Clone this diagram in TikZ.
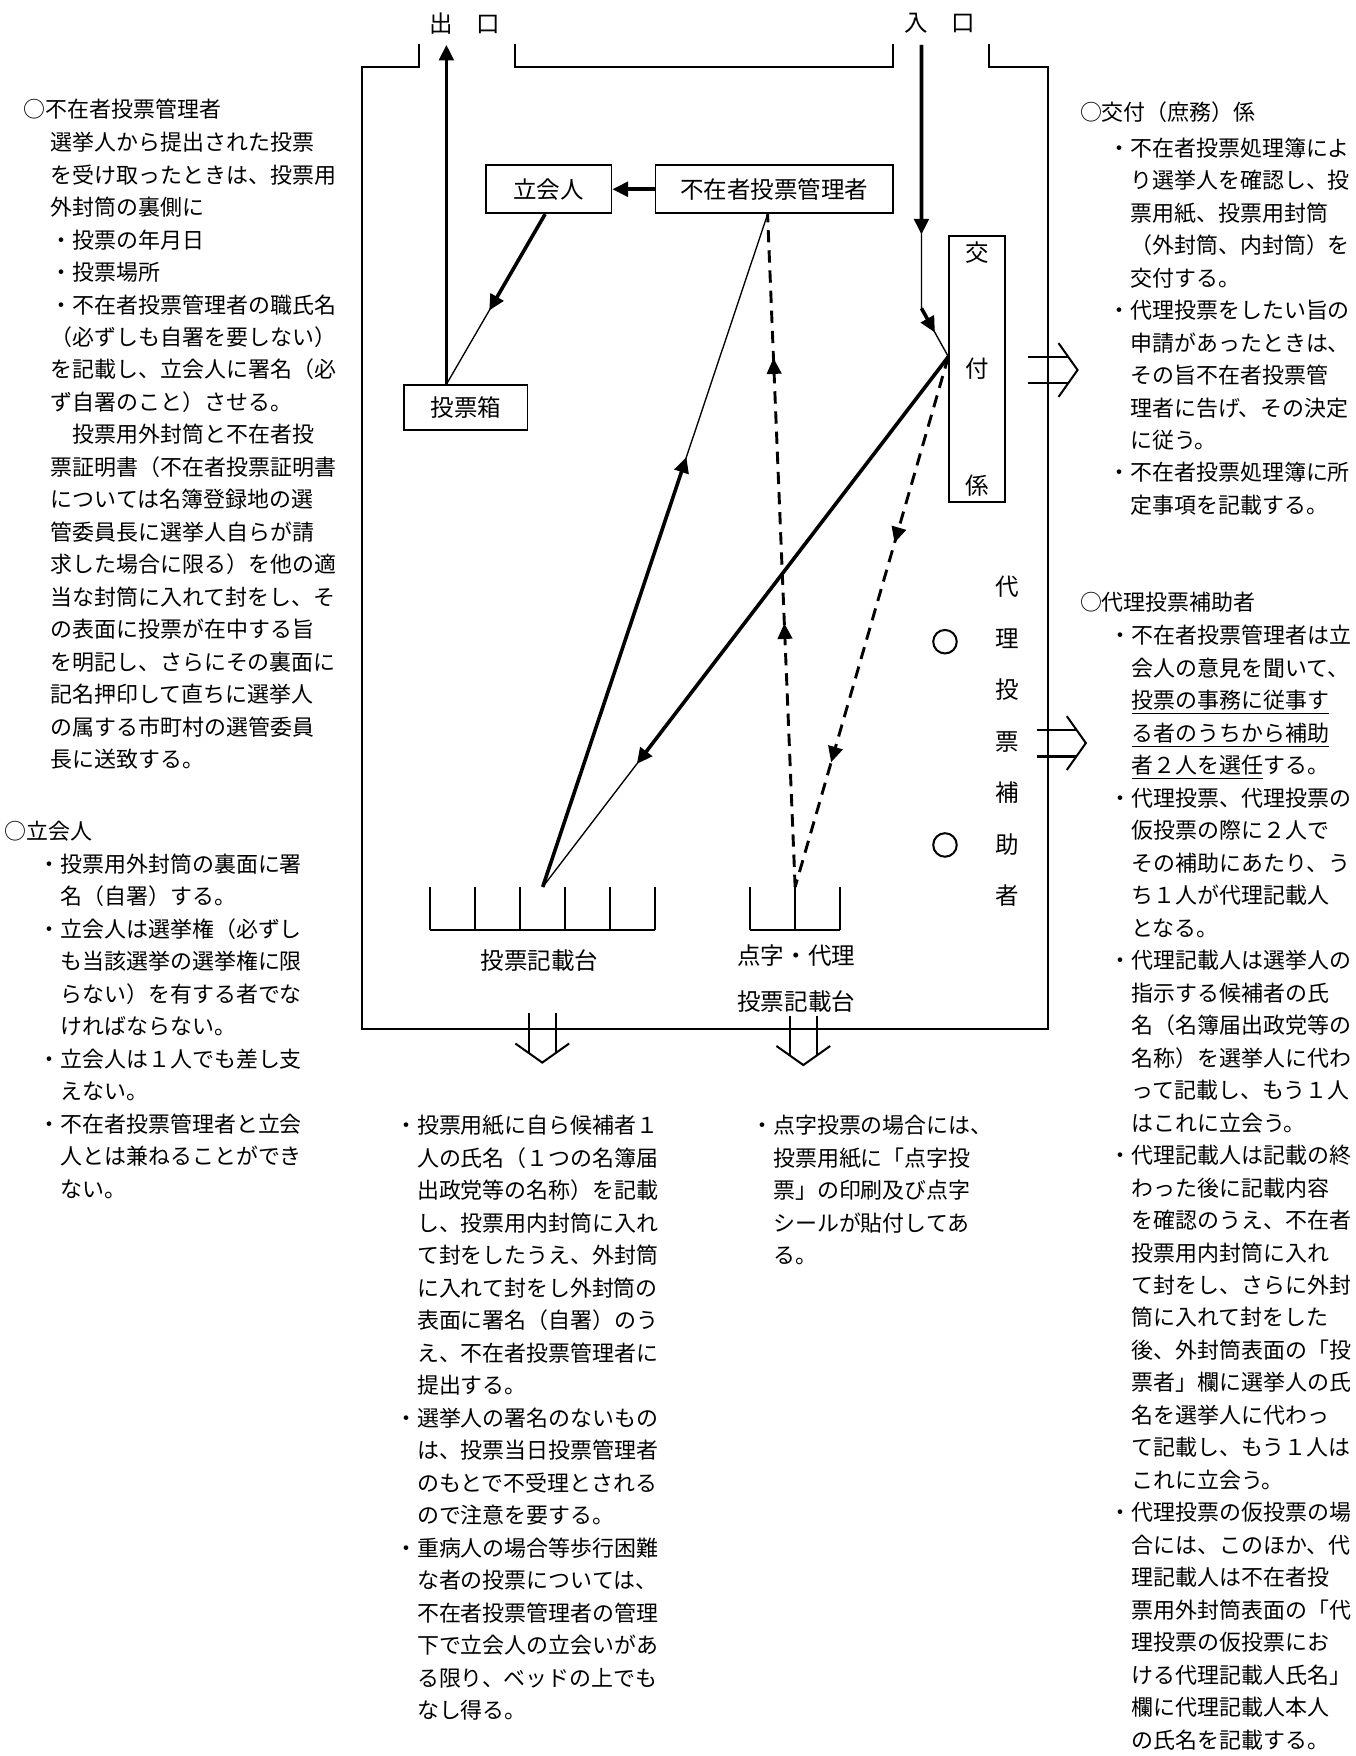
\documentclass[tikz,border=0pt]{standalone}
\usepackage{fontspec}
\setmainfont{Noto Sans CJK JP}
\usepackage{tikz}
\usetikzlibrary{calc}
\usetikzlibrary{arrows.meta}
\usetikzlibrary{decorations.markings}
\tikzstyle{namebox} = [draw=black, line width=0.8pt, rectangle, inner sep=0pt,
font=\fontsize{10.5pt}{12pt}\selectfont]
\tikzstyle{plaintext} = [inner sep=0pt, align=center, font=\fontsize{10.5pt}{12pt}\selectfont]
\tikzstyle{memo} = [align=left, inner sep=0pt, anchor=base west, font=\fontsize{9.8pt}{14.5pt}\selectfont]
\tikzstyle{wall} = [line width=0.9pt]
\tikzstyle{heavyline} = [line width=1.6pt, -{Triangle[length=7pt, width=6.5pt]}]
\tikzstyle{thinline} = [line width=0.6pt]
\tikzstyle{dashline} = [line width=1.3pt, dash pattern=on 5.5pt off 3.5pt, postaction={decorate}]
\tikzset{tipsat/.style 2 args={decoration={markings,
    mark=at position #1 with {\arrow{Triangle[length=7pt, width=6.5pt]}},
    mark=at position #2 with {\arrow{Triangle[length=7pt, width=6.5pt]}}}}}
\tikzset{pics/hollowarrow/.style={code={
    \draw[line width=0.9pt] (-44,-12) -- (-8.4,-12) (-44,12) -- (-8.4,12);
    \draw[line width=0.9pt] (-17,-24) -- (0,0) -- (-17,24);}}}

\begin{document}
\begin{tikzpicture}[x=0.5pt, y=-0.5pt]
    \useasboundingbox (0,0) rectangle (1210,1568);

    % room
    \draw[wall] (374,39) -- (374,60) -- (323.6,60) -- (323.6,919) -- (935.5,919) -- (935.5,60) -- (883,60) -- (883,39);
    \draw[wall] (460,39) -- (460,60) -- (797,60) -- (797,39);
    \node[plaintext] (exitlabel) at (415,21) {出　口};
    \node[plaintext] (entrylabel) at (839,21) {入　口};

    \node[namebox, minimum width=56pt, minimum height=21.5pt] (tachiai) at (490,169) {立会人};
    \node[namebox, minimum width=106pt, minimum height=21.5pt] (kanrisha) at (691.4,169) {不在者投票管理者};
    \node[namebox, minimum width=55pt, minimum height=20pt] (hako) at (416,364) {投票箱};
    \node[namebox, minimum width=25pt, minimum height=118.5pt, align=center,
        font=\fontsize{10.5pt}{52.2pt}\selectfont] (kofu) at (872.6,329.5) {交\\付\\係};

    \node[plaintext, font=\fontsize{10.5pt}{23pt}\selectfont] (hojo) at (899,662) {代\\理\\投\\票\\補\\助\\者};
    \node[circle, draw, line width=0.9pt, minimum size=10.5pt, inner sep=0pt] (hojoA) at (843.8,573) {};
    \node[circle, draw, line width=0.9pt, minimum size=10.5pt, inner sep=0pt] (hojoB) at (843.8,754.5) {};

    % desks
    \foreach \i in {0,...,5}
        \draw[wall] (384.2+40.16*\i,792) -- ++(0,38.4);
    \draw[wall] (384.2,830.4) -- (585,830.4);
    \foreach \x in {669.9,710,750.2}
        \draw[wall] (\x,792) -- ++(0,38.4);
    \draw[wall] (669.9,830.4) -- (750.2,830.4);
    \coordinate (desk) at (484.6,792);
    \coordinate (bdesk) at (710,792);
    \node[plaintext] (desklabel) at (481.6,857.5) {投票記載台};
    \node[plaintext, font=\fontsize{10.5pt}{20.5pt}\selectfont] (bdesklabel) at (711,873.5) {点字・代理\\投票記載台};

    % flow
    \coordinate (exitpt) at (398.6,40);
    \coordinate (entrypt) at (822.8,40);
    \coordinate (entrybend) at (822.8,275.3);
    \coordinate (hakoin) at (hako.north -| exitpt);
    \coordinate (tachiout) at ($(tachiai.south)+(-3.3,0)$);
    \coordinate (kanriout) at ($(kanrisha.south)+(-6,0)$);
    \coordinate (kofuin) at ($(kofu.west)+(0,-11)$);

    \draw[heavyline] (hakoin) -- (exitpt);
    \draw[heavyline] (kanrisha.west) -- (tachiai.east);
    \draw[thinline] (tachiout) -- (hakoin);
    \draw[heavyline] (tachiout) -- ($(tachiout)!0.566!(hakoin)$);
    \draw[thinline] (entrypt) -- (entrybend) -- (kofuin);
    \draw[heavyline] (entrypt) -- ($(entrypt)!0.72!(entrybend)$);
    \draw[heavyline] (entrybend) -- ($(entrybend)!0.5!(kofuin)$);
    \draw[thinline] (desk) -- (kanriout);
    \draw[heavyline] (desk) -- ($(desk)!0.639!(kanriout)$);
    \draw[thinline] (kofuin) -- (desk);
    \draw[heavyline] (kofuin) -- ($(kofuin)!0.768!(desk)$);
    \draw[dashline, tipsat={0.392}{0.786}] (bdesk) -- (kanriout);
    \draw[dashline, tipsat={0.351}{0.765}] (kofuin) -- (bdesk);

    \pic at (962.2,330.4) {hollowarrow};
    \pic at (969.6,663.5) {hollowarrow};
    \pic[rotate=-90] at (484.2,948.8) {hollowarrow};
    \pic[rotate=-90] at (717.3,951) {hollowarrow};

    % notes (placed at the baseline of their last line)
    \node[memo] (kanriTitle) at (21,104.5) {○不在者投票管理者};
    \node[memo] (kanriNote) at (45,685.5) {選挙人から提出された投票\\
        を受け取ったときは、投票用\\
        外封筒の裏側に\\
        ・投票の年月日\\
        ・投票場所\\
        ・不在者投票管理者の職氏名\\
        （必ずしも自署を要しない）\\
        を記載し、立会人に署名（必\\
        ず自署のこと）させる。\\
        　投票用外封筒と不在者投\\
        票証明書（不在者投票証明書\\
        については名簿登録地の選\\
        管委員長に選挙人自らが請\\
        求した場合に限る）を他の適\\
        当な封筒に入れて封をし、そ\\
        の表面に投票が在中する旨\\
        を明記し、さらにその裏面に\\
        記名押印して直ちに選挙人\\
        の属する市町村の選管委員\\
        長に送致する。};

    \node[memo] (tachiTitle) at (4,750) {○立会人};
    \node[memo] (tachiNote) at (53.6,1069) {\llap{・}投票用外封筒の裏面に署\\
        名（自署）する。\\
        \llap{・}立会人は選挙権（必ずし\\
        も当該選挙の選挙権に限\\
        らない）を有する者でな\\
        ければならない。\\
        \llap{・}立会人は１人でも差し支\\
        えない。\\
        \llap{・}不在者投票管理者と立会\\
        人とは兼ねることができ\\
        ない。};

    \node[memo] (kofuTitle) at (964,107.5) {○交付（庶務）係};
    \node[memo] (kofuNote) at (1009,458.5) {\llap{・}不在者投票処理簿によ\\
        り選挙人を確認し、投\\
        票用紙、投票用封筒\\
        （外封筒、内封筒）を\\
        交付する。\\
        \llap{・}代理投票をしたい旨の\\
        申請があったときは、\\
        その旨不在者投票管\\
        理者に告げ、その決定\\
        に従う。\\
        \llap{・}不在者投票処理簿に所\\
        定事項を記載する。};

    \node[memo] (hojoTitle) at (964,545.5) {○代理投票補助者};
    \node[memo] (hojoNote) at (1010,1561) {\llap{・}不在者投票管理者は立\\
        会人の意見を聞いて、\\
        \underline{投票の事務に従事す}\\
        \underline{る者のうちから補助}\\
        \underline{者２人を選任}する。\\
        \llap{・}代理投票、代理投票の\\
        仮投票の際に２人で\\
        その補助にあたり、う\\
        ち１人が代理記載人\\
        となる。\\
        \llap{・}代理記載人は選挙人の\\
        指示する候補者の氏\\
        名（名簿届出政党等の\\
        名称）を選挙人に代わ\\
        って記載し、もう１人\\
        はこれに立会う。\\
        \llap{・}代理記載人は記載の終\\
        わった後に記載内容\\
        を確認のうえ、不在者\\
        投票用内封筒に入れ\\
        て封をし、さらに外封\\
        筒に入れて封をした\\
        後、外封筒表面の「投\\
        票者」欄に選挙人の氏\\
        名を選挙人に代わっ\\
        て記載し、もう１人は\\
        これに立会う。\\
        \llap{・}代理投票の仮投票の場\\
        合には、このほか、代\\
        理記載人は不在者投\\
        票用外封筒表面の「代\\
        理投票の仮投票にお\\
        ける代理記載人氏名」\\
        欄に代理記載人本人\\
        の氏名を記載する。};

    \node[memo] (voteNote) at (372,1534.5) {\llap{・}投票用紙に自ら候補者１\\
        人の氏名（１つの名簿届\\
        出政党等の名称）を記載\\
        し、投票用内封筒に入れ\\
        て封をしたうえ、外封筒\\
        に入れて封をし外封筒の\\
        表面に署名（自署）のう\\
        え、不在者投票管理者に\\
        提出する。\\
        \llap{・}選挙人の署名のないもの\\
        は、投票当日投票管理者\\
        のもとで不受理とされる\\
        ので注意を要する。\\
        \llap{・}重病人の場合等歩行困難\\
        な者の投票については、\\
        不在者投票管理者の管理\\
        下で立会人の立会いがあ\\
        る限り、ベッドの上でも\\
        なし得る。};

    \node[memo] (brailleNote) at (690,1128.5) {\llap{・}点字投票の場合には、\\
        投票用紙に「点字投\\
        票」の印刷及び点字\\
        シールが貼付してあ\\
        る。};
\end{tikzpicture}
\end{document}
